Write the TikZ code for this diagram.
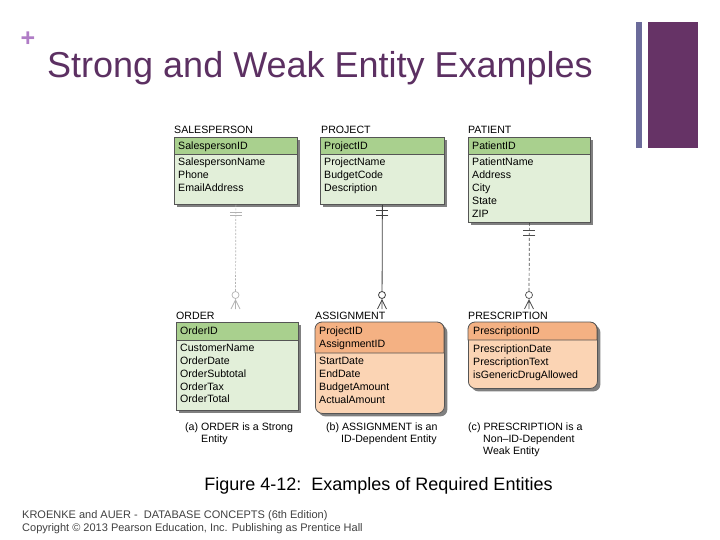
\documentclass[tikz,border=0pt]{standalone}
\usepackage{fontspec}
\setmainfont{Liberation Sans}
\usetikzlibrary{positioning, shadows}
\definecolor{cKey}{RGB}{169,208,142}
\definecolor{cBody}{RGB}{226,239,217}
\definecolor{wKey}{RGB}{244,177,131}
\definecolor{wBody}{RGB}{251,212,180}
\definecolor{cTitle}{RGB}{92,48,98}
\definecolor{cPlus}{RGB}{176,124,198}
\definecolor{cBarA}{RGB}{107,107,154}
\definecolor{cBarB}{RGB}{102,51,102}
\definecolor{cLine}{RGB}{85,85,85}

\tikzset{
  ent/.style={draw=cLine, line width=0.8pt, anchor=north west, inner sep=0pt,
    drop shadow={shadow xshift=3pt, shadow yshift=-3pt, fill=black!50, opacity=1}},
  strong/.style={ent, fill=cBody},
  weak/.style={ent, fill=wBody, rounded corners=7pt},
  keyG/.style={fill=cKey, draw=cLine, line width=0.8pt},
  keyW/.style={fill=wKey, draw=cLine, line width=0.8pt},
  attr/.style={anchor=north west, inner sep=0pt, align=left, font=\fontsize{10.6}{12.8}\selectfont},
  ename/.style={attr},
  note/.style={attr, font=\fontsize{10.6}{12}\selectfont},
  lightrel/.style={draw=black!30, line width=0.7pt, dash pattern=on 2pt off 1.5pt},
  idrel/.style={draw=black!75, line width=0.8pt},
  weakrel/.style={draw=black!70, line width=0.7pt, dash pattern=on 3pt off 2pt},
}

\begin{document}
\begin{tikzpicture}[x=1pt, y=-1pt]
    \useasboundingbox (0,0) rectangle (720,540);

    % Slide heading
    \node[font=\fontsize{25}{25}\selectfont\bfseries, text=cPlus, inner sep=0pt] (plus) at (28,39) {+};
    \node[anchor=base west, inner sep=0pt, font=\fontsize{36}{36}\selectfont, text=cTitle] (title) at (47,78) {Strong and Weak Entity Examples};
    \fill[cBarA] (636,22) rectangle (642,148);
    \fill[cBarB] (648,22) rectangle (698,148);

    % SALESPERSON
    \node[ename] (spT) at (174,126) {SALESPERSON};
    \node[strong, minimum width=123, minimum height=67] (sp) at (174,137) {};
    \path[keyG] (174,137) rectangle (297,154);
    \node[attr] (spK) at (178,142) {SalespersonID};
    \node[attr] (spA) at (178,158) {SalespersonName\\Phone\\EmailAddress};

    % PROJECT
    \node[ename] (pjT) at (321,126) {PROJECT};
    \node[strong, minimum width=124, minimum height=67] (pj) at (320,137) {};
    \path[keyG] (320,137) rectangle (444,154);
    \node[attr] (pjK) at (324,142) {ProjectID};
    \node[attr] (pjA) at (324,158) {ProjectName\\BudgetCode\\Description};

    % PATIENT
    \node[ename] (ptT) at (468,126) {PATIENT};
    \node[strong, minimum width=122, minimum height=85] (pt) at (468,137) {};
    \path[keyG] (468,137) rectangle (590,154);
    \node[attr] (ptK) at (472,142) {PatientID};
    \node[attr] (ptA) at (472,158) {PatientName\\Address\\City\\State\\ZIP};

    % ORDER (strong)
    \node[ename] (odT) at (176,312) {ORDER};
    \node[strong, minimum width=122, minimum height=88] (od) at (176,322) {};
    \path[keyG] (176,322) rectangle (298,340);
    \node[attr] (odK) at (180,327) {OrderID};
    \node[attr] (odA) at (180,344) {CustomerName\\OrderDate\\OrderSubtotal\\OrderTax\\OrderTotal};
    \node[note] (odN) at (185,423) {(a) ORDER is a Strong\\\hspace*{16pt}Entity};

    % ASSIGNMENT (ID-dependent)
    \node[ename] (asT) at (315,312) {ASSIGNMENT};
    \node[weak, minimum width=129, minimum height=91] (as) at (315,322) {};
    \path[keyW] (315,353) [rounded corners=7pt] -- (315,322) -- (444,322) [sharp corners] -- (444,353) -- cycle;
    \node[attr] (asK) at (319,327) {ProjectID\\AssignmentID};
    \node[attr] (asA) at (319,357) {StartDate\\EndDate\\BudgetAmount\\ActualAmount};
    \node[note] (asN) at (326,423) {(b) ASSIGNMENT is an\\\hspace*{15pt}ID-Dependent Entity};

    % PRESCRIPTION (non-ID-dependent weak)
    \node[ename] (psT) at (468,312) {PRESCRIPTION};
    \node[weak, minimum width=129, minimum height=66] (ps) at (468,322) {};
    \path[keyW] (468,340) [rounded corners=7pt] -- (468,322) -- (597,322) [sharp corners] -- (597,340) -- cycle;
    \node[attr] (psK) at (473,327) {PrescriptionID};
    \node[attr] (psA) at (473,345) {PrescriptionDate\\PrescriptionText\\isGenericDrugAllowed};
    \node[note] (psN) at (468,423) {(c) PRESCRIPTION is a\\\hspace*{15pt}Non--ID-Dependent\\\hspace*{15pt}Weak Entity};

    % SALESPERSON - ORDER
    \coordinate (odFoot) at (235.5,309);
    \draw[lightrel] (sp.south) -- ([yshift=14pt]odFoot);
    \draw[lightrel, solid] (sp.south) ++(-6,8) -- ++(12,0) ++(0,3) -- ++(-12,0);
    \draw[lightrel, solid, fill=white] (odFoot) ++(0,-14) circle (3.5);
    \draw[lightrel, solid] (odFoot) -- ++(0,-9) -- ++(-4.5,9) ++(4.5,-9) -- ++(4.5,9);

    % PROJECT - ASSIGNMENT
    \coordinate (asFoot) at (382,309);
    \draw[idrel] (pj.south) -- (asFoot);
    \draw[idrel] (pj.south) ++(-6,6) -- ++(12,0) ++(0,5) -- ++(-12,0);
    \draw[idrel, fill=white] (asFoot) ++(0,-14) circle (3.5);
    \draw[idrel] (asFoot) ++(0,-9) -- ++(-4.5,9) ++(4.5,-9) -- ++(4.5,9);

    % PATIENT - PRESCRIPTION
    \coordinate (psFoot) at (529,309);
    \draw[weakrel] (pt.south) -- ([yshift=14pt]psFoot);
    \draw[weakrel, solid] (pt.south) ++(-6,8) -- ++(12,0) ++(0,5) -- ++(-12,0);
    \draw[weakrel, solid, fill=white] (psFoot) ++(0,-14) circle (3.5);
    \draw[weakrel, solid] (psFoot) -- ++(0,-9) -- ++(-4.5,9) ++(4.5,-9) -- ++(4.5,9);

    % Figure caption and credits
    \node[anchor=base, inner sep=0pt, font=\fontsize{18}{18}\selectfont] (fig) at (378.5,490) {Figure 4-12:\ \ Examples of Required Entities};
    \node[anchor=base west, inner sep=0pt, align=left, text=black!75, font=\fontsize{11}{13}\selectfont] (cred) at (22,531) {KROENKE and AUER -\ \ DATABASE CONCEPTS (6th Edition)\\Copyright \textcopyright{} 2013 Pearson Education, Inc. Publishing as Prentice Hall};
\end{tikzpicture}
\end{document}
